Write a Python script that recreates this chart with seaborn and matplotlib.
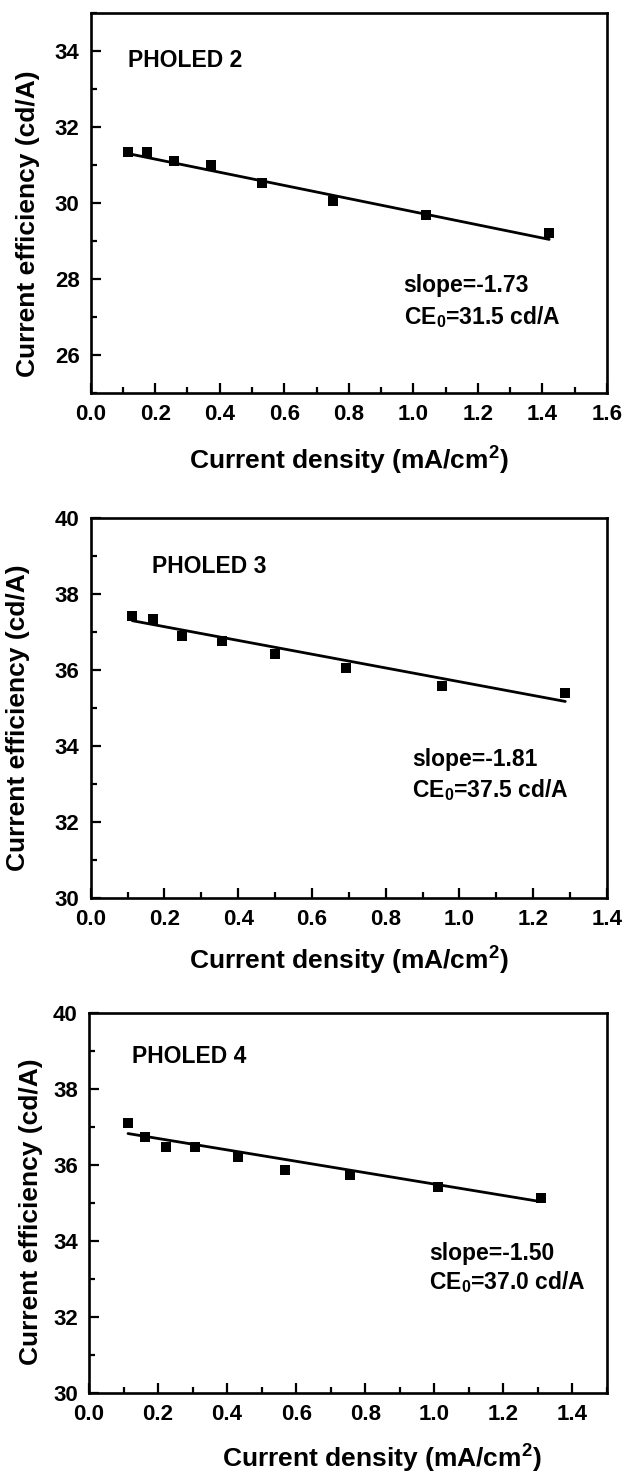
import matplotlib
matplotlib.use('Agg')
import matplotlib.pyplot as plt
from matplotlib.ticker import MultipleLocator
import numpy as np
import pandas as pd
import seaborn as sns

# Data
j_p2 = [0.116, 0.175, 0.258, 0.372, 0.532, 0.750, 1.040, 1.421]
ce_p2 = [31.34, 31.35, 31.10, 30.99, 30.53, 30.04, 29.69, 29.21]

j_p3 = [0.113, 0.170, 0.248, 0.355, 0.499, 0.693, 0.952, 1.287]
ce_p3 = [37.41, 37.34, 36.89, 36.77, 36.42, 36.04, 35.57, 35.38]

j_p4 = [0.113, 0.161, 0.223, 0.306, 0.431, 0.568, 0.756, 1.011, 1.308]
ce_p4 = [37.11, 36.74, 36.48, 36.48, 36.21, 35.87, 35.73, 35.43, 35.14]

device_names = ['PHOLED 2', 'PHOLED 3', 'PHOLED 4']
fit_slopes = [-1.73, -1.81, -1.50]
fit_ce0 = [31.5, 37.5, 37.0]

sns.set_style('ticks')
plt.rcParams['font.family'] = ['Liberation Sans', 'DejaVu Sans']
plt.rcParams['font.weight'] = 'bold'
plt.rcParams['text.color'] = 'black'
plt.rcParams['axes.labelcolor'] = 'black'
plt.rcParams['xtick.color'] = 'black'
plt.rcParams['ytick.color'] = 'black'
plt.rcParams['axes.edgecolor'] = 'black'
plt.rcParams['mathtext.fontset'] = 'custom'
plt.rcParams['mathtext.rm'] = 'Liberation Sans:bold'
plt.rcParams['mathtext.bf'] = 'Liberation Sans:bold'
plt.rcParams['mathtext.it'] = 'Liberation Sans:bold'
plt.rcParams['mathtext.default'] = 'rm'

fig = plt.figure(figsize=(6.24, 14.73), dpi=100)

# axes boxes in figure fractions (left, bottom, width, height)
boxes = [(0.1453, 0.7332, 0.8274, 0.258),
         (0.1453, 0.3904, 0.8274, 0.258),
         (0.1426, 0.0543, 0.8301, 0.2579)]
xlims = [(0, 1.6), (0, 1.4), (0, 1.5)]
ylims = [(25, 35), (30, 40), (30, 40)]
ymajor = [(26, 34), (30, 40), (30, 40)]
ylabel_pos = [(-0.1215, 0.445), (-0.141, 0.474), (-0.112, 0.478)]
xlabel_pos = [(0.5, -0.135), (0.5, -0.122), (0.566, -0.132)]
name_pos = [(0.072, 0.876), (0.118, 0.871), (0.083, 0.885)]
note_pos = [(0.606, 0.282, 0.200), (0.623, 0.363, 0.284), (0.657, 0.367, 0.291)]

datasets = [(j_p2, ce_p2), (j_p3, ce_p3), (j_p4, ce_p4)]

for i, (jx, cy) in enumerate(datasets):
    ax = fig.add_axes(boxes[i])
    df = pd.DataFrame({'J': jx, 'CE': cy})
    # linear fit from the quoted slope and CE0
    fit = pd.DataFrame({'J': [min(jx), max(jx)]})
    fit['CE'] = fit_ce0[i] + fit_slopes[i] * fit['J']

    sns.lineplot(data=fit, x='J', y='CE', ax=ax, color='black', linewidth=2.0)
    sns.scatterplot(data=df, x='J', y='CE', ax=ax, marker='s', s=46,
                    color='black', edgecolor='black', linewidth=0, zorder=3)

    ax.set_xlim(*xlims[i])
    ax.set_ylim(*ylims[i])
    xt = np.arange(0, xlims[i][1] + 0.001, 0.2)
    ax.set_xticks(xt)
    ax.set_xticklabels([f'{v:.1f}' for v in xt])
    ax.set_yticks(np.arange(ymajor[i][0], ymajor[i][1] + 1, 2))
    ax.xaxis.set_minor_locator(MultipleLocator(0.1))
    ax.yaxis.set_minor_locator(MultipleLocator(1))
    ax.tick_params(which='major', direction='in', length=7, width=1.6,
                   labelsize=16, pad=8, top=False, right=False)
    ax.tick_params(which='minor', direction='in', length=4, width=1.6,
                   top=False, right=False)
    for lab in ax.get_xticklabels() + ax.get_yticklabels():
        lab.set_fontweight('bold')
    for sp in ax.spines.values():
        sp.set_linewidth(1.9)

    ax.set_xlabel('Current density (mA/cm$^2$)', fontsize=19, fontweight='bold')
    ax.set_ylabel('Current efficiency (cd/A)', fontsize=19, fontweight='bold', va='center')
    ax.xaxis.set_label_coords(*xlabel_pos[i])
    ax.yaxis.set_label_coords(*ylabel_pos[i])

    ax.text(name_pos[i][0], name_pos[i][1], device_names[i], transform=ax.transAxes,
            fontsize=16.5, fontweight='bold', va='center', ha='left')
    nx, ny1, ny2 = note_pos[i]
    ax.text(nx, ny1, f'slope={fit_slopes[i]:.2f}', transform=ax.transAxes,
            fontsize=16.5, fontweight='bold', va='center', ha='left')
    ax.text(nx, ny2, f'CE$_0$={fit_ce0[i]:.1f} cd/A', transform=ax.transAxes,
            fontsize=16.5, fontweight='bold', va='center', ha='left')

fig.savefig('out.png', dpi=100)
